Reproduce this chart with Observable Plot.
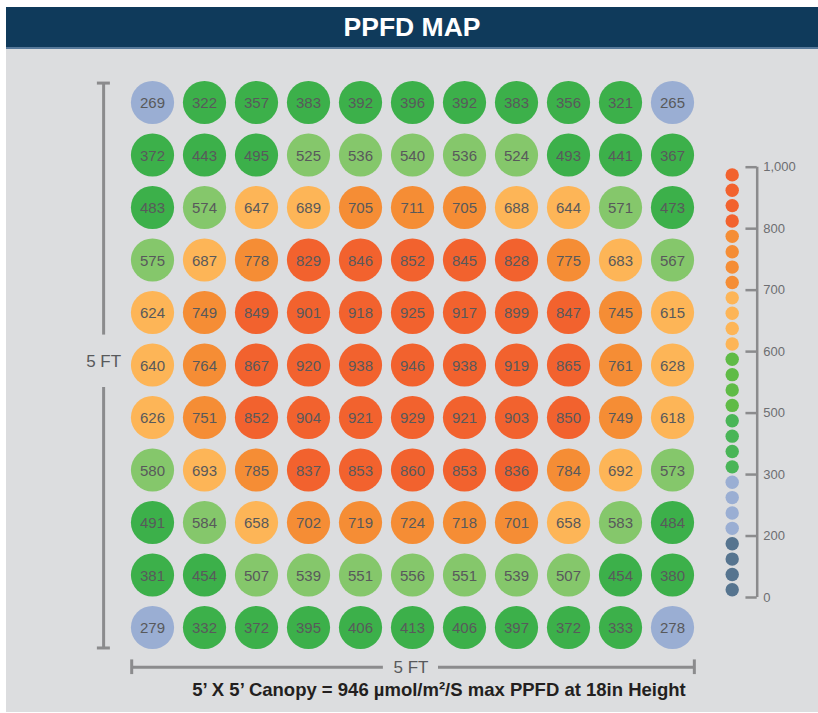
<!DOCTYPE html>
<html>
<head>
<meta charset="utf-8">
<script src="https://cdn.jsdelivr.net/npm/d3@7"></script>
<script src="https://cdn.jsdelivr.net/npm/@observablehq/plot@0.6"></script>
<style>
  html, body { margin: 0; padding: 0; background: #ffffff; }
  body { font-family: "Liberation Sans", Arial, sans-serif; }
  #wrap { position: relative; width: 818px; height: 713px; overflow: hidden; }
  #title { position: absolute; left: 6px; top: 7px; width: 812px; height: 40px;
           background: #0f3a5b; border-bottom: 2px solid #57799a; color: #fff;
           font-weight: bold; font-size: 26.5px; line-height: 40px; text-align: center; }
  #panel { position: absolute; left: 6px; top: 49px; width: 812px; height: 663px; background: #dcdddf; }
  #main { position: absolute; left: 0; top: 0; }
  #legend { position: absolute; left: 694px; top: 101px; }
  #caption { position: absolute; left: 0; width: 866px; top: 630px; text-align: center;
             font-weight: bold; font-size: 18.5px; color: #231f20; white-space: nowrap; }
</style>
</head>
<body>
<div id="wrap">
  <div id="title">PPFD MAP</div>
  <div id="panel">
    <div id="main"></div>
    <div id="legend"></div>
    <div id="caption">5’ X 5’ Canopy = 946 µmol/m²/S max PPFD at 18in Height</div>
  </div>
</div>
<script>
// PPFD readings, 11 rows (top to bottom) x 11 columns (left to right)
const row0  = [269, 322, 357, 383, 392, 396, 392, 383, 356, 321, 265];
const row1  = [372, 443, 495, 525, 536, 540, 536, 524, 493, 441, 367];
const row2  = [483, 574, 647, 689, 705, 711, 705, 688, 644, 571, 473];
const row3  = [575, 687, 778, 829, 846, 852, 845, 828, 775, 683, 567];
const row4  = [624, 749, 849, 901, 918, 925, 917, 899, 847, 745, 615];
const row5  = [640, 764, 867, 920, 938, 946, 938, 919, 865, 761, 628];
const row6  = [626, 751, 852, 904, 921, 929, 921, 903, 850, 749, 618];
const row7  = [580, 693, 785, 837, 853, 860, 853, 836, 784, 692, 573];
const row8  = [491, 584, 658, 702, 719, 724, 718, 701, 658, 583, 484];
const row9  = [381, 454, 507, 539, 551, 556, 551, 539, 507, 454, 380];
const row10 = [279, 332, 372, 395, 406, 413, 406, 397, 372, 333, 278];

// Colour bins (lower bounds) and legend tick labels
const binThresholds = [200, 300, 500, 600, 700, 800];
const gridColors   = ["#56748f", "#9aaed3", "#3cb04a", "#85c76b", "#fdb557", "#f58d35", "#f2622e"];
const legendColors = ["#56748f", "#9aaed3", "#49b557", "#5fbb46", "#fdb557", "#f58d35", "#f2622e"];
const legendTicks  = ["0", "200", "300", "500", "600", "700", "800", "1,000"];
const dotsPerBin = 4;
const sizeLabel = "5 FT";

const rows = [row0, row1, row2, row3, row4, row5, row6, row7, row8, row9, row10];
const cells = rows.flatMap((r, i) => r.map((v, j) => ({row: i, col: j, value: v})));
const binOf = v => d3.bisectRight(binThresholds, v);

const gray = "#8b8b8d";
const font = "Liberation Sans, Arial, sans-serif";

// Bracket geometry in grid units
const bx = -0.94, byTop = -0.37, byBot = 10.39, bMid = 4.93, bGap = 0.5;
const hy = 10.757, hxL = -0.4, hxR = 10.42, hMid = 4.97, hGap = 0.53;

const main = Plot.plot({
  width: 812, height: 628,
  marginLeft: 146, marginRight: 146, marginTop: 53, marginBottom: 50,
  x: {domain: [0, 10], axis: null},
  y: {domain: [0, 10], reverse: true, axis: null},
  style: {background: "transparent", fontFamily: font},
  marks: [
    // left vertical bracket
    Plot.ruleX([bx], {y1: byTop, y2: bMid - bGap, stroke: gray, strokeWidth: 3}),
    Plot.ruleX([bx], {y1: bMid + bGap, y2: byBot, stroke: gray, strokeWidth: 3}),
    Plot.ruleY([byTop, byBot], {x1: bx - 0.12, x2: bx + 0.13, stroke: gray, strokeWidth: 3}),
    Plot.text([sizeLabel], {x: bx, y: bMid, text: d => d, fontSize: 17, fill: "#58595b"}),
    // bottom horizontal bracket
    Plot.ruleY([hy], {x1: hxL, x2: hMid - hGap, stroke: gray, strokeWidth: 3}),
    Plot.ruleY([hy], {x1: hMid + hGap, x2: hxR, stroke: gray, strokeWidth: 3}),
    Plot.ruleX([hxL, hxR], {y1: hy - 0.14, y2: hy + 0.14, stroke: gray, strokeWidth: 3}),
    Plot.text([sizeLabel], {x: hMid, y: hy, text: d => d, fontSize: 17, fill: "#58595b"}),
    // grid of readings
    Plot.dot(cells, {x: "col", y: "row", r: 21.6, fill: d => gridColors[binOf(d.value)], stroke: "none"}),
    Plot.text(cells, {x: "col", y: "row", text: d => String(d.value), fontSize: 15, fill: "#58595b", dy: 1})
  ]
});
document.getElementById("main").appendChild(main);

// Legend
const legendDots = d3.range(gridColors.length * dotsPerBin).map(i => ({i, bin: Math.floor(i / dotsPerBin)}));
const tickPos = legendTicks.map((t, k) => ({pos: k * dotsPerBin, label: t}));
const legend = Plot.plot({
  width: 115, height: 460,
  marginLeft: 0, marginRight: 0, marginTop: 16.7, marginBottom: 13,
  x: {domain: [0, 1], range: [31.7, 56.7], axis: null},
  y: {domain: [0, legendDots.length], axis: null},
  style: {background: "transparent", fontFamily: font},
  marks: [
    Plot.dot(legendDots, {x: 0, y: d => d.i + 0.5, r: 6.7, fill: d => legendColors[d.bin], stroke: "none"}),
    Plot.ruleX([1], {y1: 0, y2: legendDots.length, stroke: gray, strokeWidth: 2.5}),
    Plot.ruleY(tickPos, {y: "pos", x1: 0.55, x2: 1, stroke: gray, strokeWidth: 2.5}),
    Plot.text(tickPos, {x: 1, y: "pos", text: "label", dx: 6, textAnchor: "start", fontSize: 13, fill: "#6d6e71"})
  ]
});
document.getElementById("legend").appendChild(legend);
</script>
</body>
</html>
